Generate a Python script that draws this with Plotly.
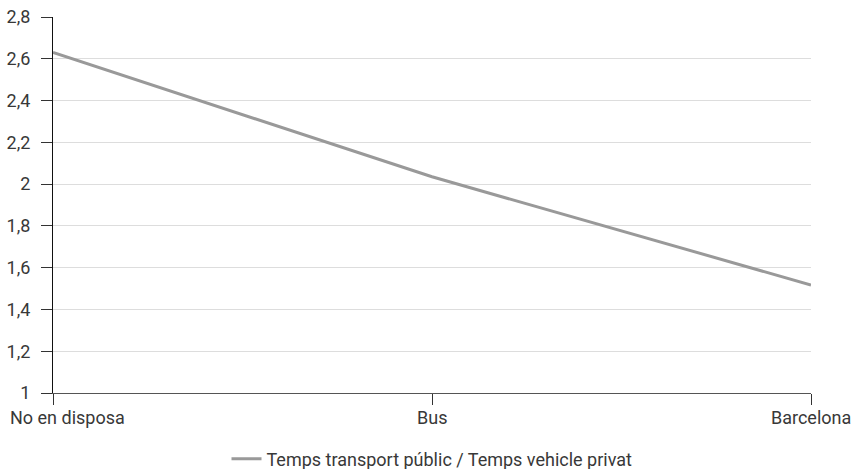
import plotly.graph_objects as go

categories = ["No en disposa", "Bus", "Barcelona"]
values = [2.63, 2.035, 1.517]
series_name = "Temps transport públic / Temps vehicle privat"
y_tickvals = [1, 1.2, 1.4, 1.6, 1.8, 2, 2.2, 2.4, 2.6, 2.8]
y_ticktext = ["1", "1,2", "1,4", "1,6", "1,8", "2", "2,2", "2,4", "2,6", "2,8"]

font_family = "Roboto, sans-serif"
fs = 18
txt_color = "#383838"

fig = go.Figure()
fig.add_trace(go.Scatter(
    x=categories, y=values, mode="lines", name=series_name,
    line=dict(color="#999999", width=3),
    showlegend=True,
))

# category labels as annotations so the first one can be kept inside the image
for i, cat in enumerate(categories):
    first = i == 0
    fig.add_annotation(
        x=cat, xref="x", y=0, yref="paper",
        text=cat, showarrow=False,
        xanchor="left" if first else "center",
        xshift=-45 if first else 0,
        yanchor="top", yshift=-12,
        font=dict(family=font_family, size=fs, color=txt_color),
    )

fig.update_layout(
    width=854, height=469,
    margin=dict(l=53, r=43, t=17, b=76),
    paper_bgcolor="white", plot_bgcolor="white",
    font=dict(family=font_family, size=fs, color=txt_color),
    showlegend=True,
    legend=dict(orientation="h", x=0.5, xanchor="center",
                yref="container", y=0.021, yanchor="middle",
                font=dict(size=fs, color=txt_color)),
    xaxis=dict(
        type="category", range=[0, 2], showgrid=False, automargin=False,
        showline=True, linecolor="#555555", linewidth=1,
        ticks="outside", ticklen=11, tickcolor="#333333",
        showticklabels=False, zeroline=False,
    ),
    yaxis=dict(
        range=[1, 2.8], tickvals=y_tickvals, ticktext=y_ticktext, automargin=False,
        showgrid=True, gridcolor="#dddddd", gridwidth=1,
        showline=True, linecolor="#111111", linewidth=1,
        ticks="outside", ticklen=11, tickcolor="#333333",
        tickfont=dict(size=fs, color=txt_color),
        zeroline=False, ticklabelstandoff=7,
    ),
)

fig.write_html("out.html", config={"displayModeBar": False},
               post_script="document.body.style.margin='0';document.body.style.overflow='hidden';")
